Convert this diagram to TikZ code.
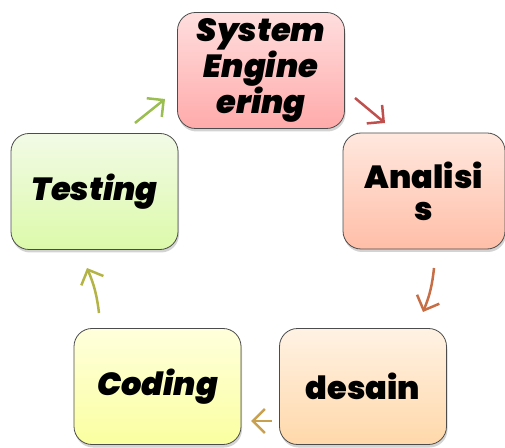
\documentclass[tikz,border=0pt]{standalone}
\usepackage{fontspec}
\newfontfamily\boxfont{Poppins}[BoldFont={Poppins Black},BoldItalicFont={Poppins Black Italic}]
\usetikzlibrary{shadows,arrows.meta}
\definecolor{redarr}{RGB}{192,80,77}
\definecolor{brownarr}{RGB}{200,110,70}
\definecolor{tanarr}{RGB}{200,160,80}
\definecolor{olivearr}{RGB}{180,180,70}
\definecolor{greenarr}{RGB}{155,190,80}
\begin{document}
\begin{tikzpicture}[x=1pt,y=1pt,
  phase/.style={draw=black!70,line width=0.8pt,rounded corners=18pt,
    minimum width=167pt,minimum height=116pt,align=center,
    font=\boxfont\bfseries\fontsize{32}{32}\selectfont,
    drop shadow={shadow xshift=1pt,shadow yshift=-3pt,opacity=0.35}},
  arr/.style={line width=2.5pt,-{Straight Barb[length=12pt,width=24pt,line width=2.5pt]}}]
\useasboundingbox (0,0) rectangle (505,447);
\node [phase,top color={rgb,255:red,255;green,222;blue,222},bottom color={rgb,255:red,255;green,170;blue,170}] (se) at (261,376.5) {\itshape System\\\itshape Engine\\\itshape ering};
\node [phase,minimum width=162pt,top color={rgb,255:red,255;green,232;blue,222},bottom color={rgb,255:red,255;green,190;blue,168}] (an) at (424,256) {Analisi\\s};
\node [phase,top color={rgb,255:red,255;green,242;blue,228},bottom color={rgb,255:red,255;green,216;blue,170}] (de) at (363,60.5) {desain};
\node [phase,top color={rgb,255:red,255;green,255;blue,220},bottom color={rgb,255:red,250;green,255;blue,160}] (co) at (157.5,60.5) {\itshape Coding};
\node [phase,top color={rgb,255:red,242;green,250;blue,230},bottom color={rgb,255:red,220;green,250;blue,170}] (te) at (94.5,255.5) {\itshape Testing};
% arrows in the gaps
\coordinate (a1) at (355,349); \coordinate (b1) at (385,324);
\coordinate (a2) at (434,179); \coordinate (b2) at (423,135);
\coordinate (a3) at (272,26);  \coordinate (b3) at (251,26);
\coordinate (a4) at (99,134);  \coordinate (b4) at (87,179);
\coordinate (a5) at (135,324); \coordinate (b5) at (165,348);
\draw [arr,redarr] (a1) -- (b1);
\draw [arr,brownarr] (a2) to[bend left=8] (b2);
\draw [arr,tanarr] (a3) -- (b3);
\draw [arr,olivearr] (a4) to[bend right=8] (b4);
\draw [arr,greenarr] (a5) -- (b5);
\end{tikzpicture}
\end{document}
